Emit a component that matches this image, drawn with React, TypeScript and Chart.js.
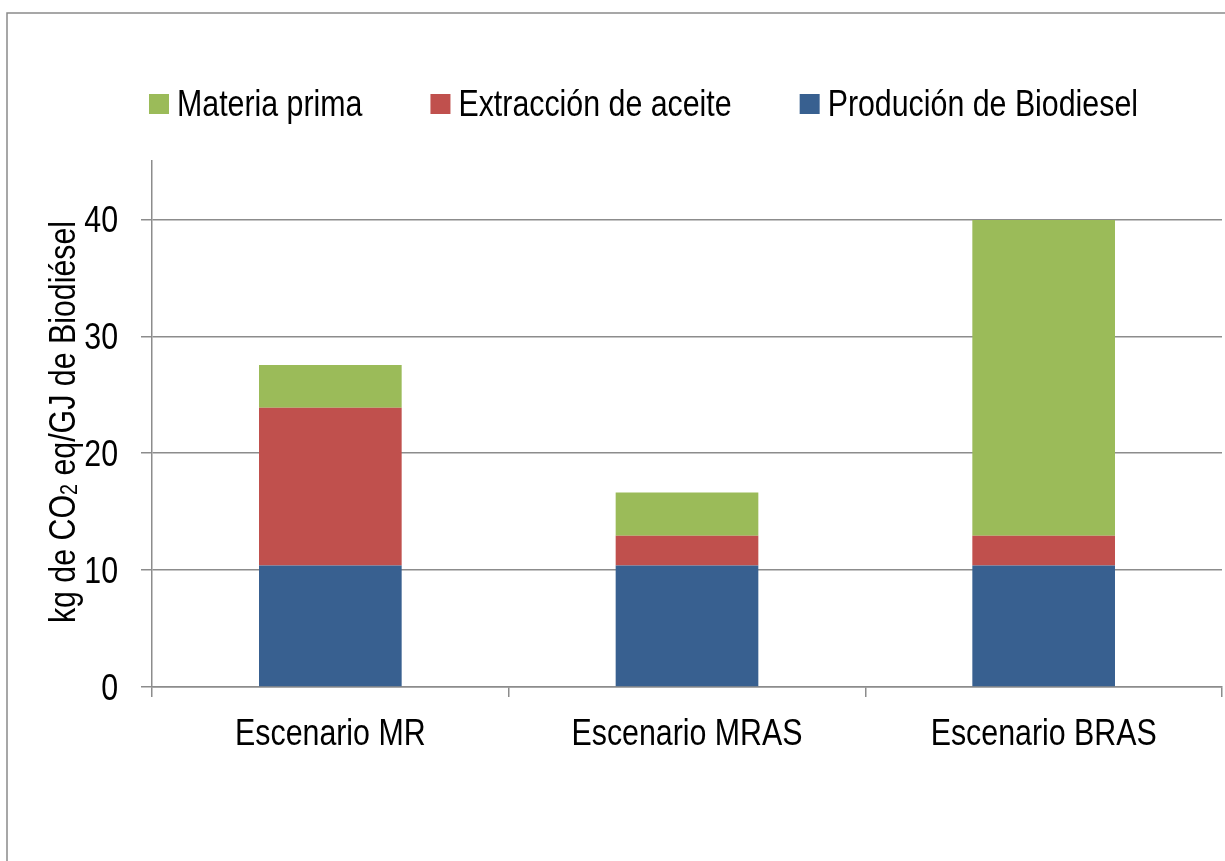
import React, { useEffect, useRef } from "react";
import { Chart, registerables } from "chart.js";

Chart.register(...registerables);

// Scenario categories and emission contributions (kg CO2 eq / GJ biodiesel)
const categories = ["Escenario MR", "Escenario MRAS", "Escenario BRAS"];
const producionBiodiesel = [10.4, 10.4, 10.4];
const extraccionAceite = [13.5, 2.55, 2.55];
const materiaPrima = [3.65, 3.7, 27.0];

const seriesNames = ["Produción de Biodiesel", "Extracción de aceite", "Materia prima"];
const seriesColors = ["#386090", "#C0504D", "#9BBB59"];
const legendOrder = [2, 1, 0];

const yTickValues = [0, 10, 20, 30, 40];
const yMax = 45;

const FONT = '"Liberation Sans", Arial, sans-serif';
const NARROW = 0.82; // horizontal condensing of the label face
const GRID = "#8c8c8c";

function narrowText(
  ctx: CanvasRenderingContext2D,
  text: string,
  x: number,
  y: number,
  align: CanvasTextAlign,
  size = 37
) {
  ctx.save();
  ctx.font = `${size}px ${FONT}`;
  ctx.fillStyle = "#000000";
  ctx.textBaseline = "alphabetic";
  ctx.textAlign = align;
  ctx.translate(x, y);
  ctx.scale(NARROW, 1);
  ctx.fillText(text, 0, 0);
  ctx.restore();
}

function narrowWidth(ctx: CanvasRenderingContext2D, text: string, size = 37) {
  ctx.save();
  ctx.font = `${size}px ${FONT}`;
  const w = ctx.measureText(text).width * NARROW;
  ctx.restore();
  return w;
}

const framePlugin = {
  id: "frame",
  beforeDraw(chart: any) {
    const ctx = chart.ctx;
    ctx.save();
    ctx.fillStyle = "#ffffff";
    ctx.fillRect(0, 0, chart.width, chart.height);
    ctx.strokeStyle = "#8a8a8a";
    ctx.lineWidth = 1.5;
    ctx.strokeRect(7, 13, chart.width + 100, chart.height + 100);
    ctx.restore();
  },
};

const legendPlugin = {
  id: "topLegend",
  afterDraw(chart: any) {
    const ctx = chart.ctx;
    const box = 20;
    const gapText = 8;
    const gapItem = 68;
    const widths = legendOrder.map((i) => narrowWidth(ctx, seriesNames[i]));
    const total =
      widths.reduce((a, w) => a + box + gapText + w, 0) + gapItem * (legendOrder.length - 1);
    let x = 643.5 - total / 2;
    legendOrder.forEach((i, k) => {
      ctx.save();
      ctx.fillStyle = seriesColors[i];
      ctx.fillRect(x, 94, box, box);
      ctx.restore();
      narrowText(ctx, seriesNames[i], x + box + gapText, 116, "left");
      x += box + gapText + widths[k] + gapItem;
    });
  },
};

const tickLabelPlugin = {
  id: "tickLabels",
  afterDraw(chart: any) {
    const ctx = chart.ctx;
    const xs = chart.scales.x;
    const ys = chart.scales.y;
    yTickValues.forEach((v) => {
      narrowText(ctx, String(v), 118, ys.getPixelForValue(v) + 13, "right");
    });
    categories.forEach((c, i) => {
      narrowText(ctx, c, xs.getPixelForValue(i), 745, "center");
    });
  },
};

const yTitlePlugin = {
  id: "yTitle",
  afterDraw(chart: any) {
    const ctx = chart.ctx;
    const parts = [
      { t: "kg de CO", size: 37, dy: 0 },
      { t: "2", size: 24, dy: 2 },
      { t: " eq/GJ de Biodiésel", size: 37, dy: 0 },
    ];
    ctx.save();
    ctx.translate(75, 422);
    ctx.rotate(-Math.PI / 2);
    ctx.scale(NARROW, 1);
    ctx.textBaseline = "alphabetic";
    ctx.textAlign = "left";
    ctx.fillStyle = "#000000";
    const ws = parts.map((p) => {
      ctx.font = `${p.size}px ${FONT}`;
      return ctx.measureText(p.t).width;
    });
    let x = -ws.reduce((a, b) => a + b, 0) / 2;
    parts.forEach((p, i) => {
      ctx.font = `${p.size}px ${FONT}`;
      ctx.fillText(p.t, x, p.dy);
      x += ws[i];
    });
    ctx.restore();
  },
};

export default function App() {
  const canvasRef = useRef<HTMLCanvasElement | null>(null);

  useEffect(() => {
    const canvas = canvasRef.current;
    if (!canvas) return;
    const seriesData = [producionBiodiesel, extraccionAceite, materiaPrima];
    const chart = new Chart(canvas, {
      type: "bar",
      data: {
        labels: categories,
        datasets: seriesData.map((d, i) => ({
          label: seriesNames[i],
          data: d,
          backgroundColor: seriesColors[i],
          borderWidth: 0,
          categoryPercentage: 1,
          barPercentage: 0.4,
        })),
      },
      options: {
        responsive: false,
        animation: false,
        layout: { padding: { top: 161, left: 0, right: 3, bottom: 0 } },
        plugins: {
          legend: { display: false },
          tooltip: { enabled: false },
          title: { display: false },
        },
        scales: {
          x: {
            stacked: true,
            offset: true,
            grid: {
              display: true,
              offset: true,
              drawOnChartArea: false,
              drawTicks: true,
              tickLength: 10,
              color: GRID,
              lineWidth: 1.5,
            },
            border: { display: true, color: GRID, width: 1.5 },
            ticks: { display: false, autoSkip: false },
            afterFit(scale: any) {
              scale.height = 174;
            },
          },
          y: {
            stacked: true,
            min: 0,
            max: yMax,
            afterBuildTicks(scale: any) {
              scale.ticks = yTickValues.map((v) => ({ value: v }));
            },
            grid: {
              color: GRID,
              lineWidth: 1.5,
              tickLength: 11,
              drawTicks: true,
            },
            border: { display: true, color: GRID, width: 1.5 },
            ticks: { display: false },
            afterFit(scale: any) {
              scale.width = 152;
            },
          },
        },
      },
      plugins: [framePlugin, legendPlugin, tickLabelPlugin, yTitlePlugin],
    });
    return () => chart.destroy();
  }, []);

  return (
    <div style={{ position: "fixed", left: 0, top: 0, width: 1225, height: 861, background: "#fff" }}>
      <canvas ref={canvasRef} width={1225} height={861} style={{ display: "block" }} />
    </div>
  );
}
